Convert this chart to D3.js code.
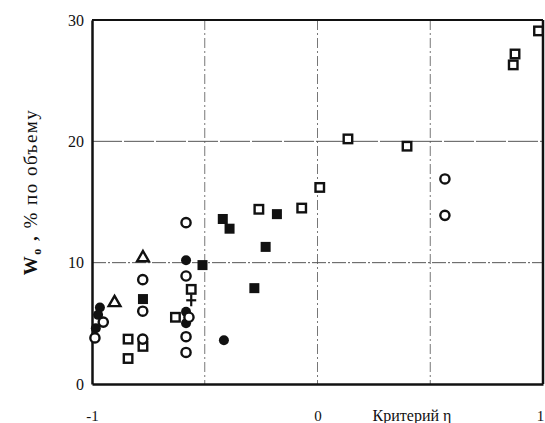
<!DOCTYPE html>
<html><head><meta charset="utf-8">
<script src="https://cdn.jsdelivr.net/npm/d3@7"></script>
<style>body{margin:0;background:#fff}svg{display:block}</style>
</head><body>
<svg id="c" width="545" height="423"></svg>
<script>
const xTicks = [-1, 0, 1];
const yTicks = [0, 10, 20, 30];
const xGrid = [-0.5, 0, 0.5];
const yGrid = [10, 20];
const openSquares = [[0.98,29.1],[0.876,27.2],[0.868,26.3],[0.135,20.2],[0.397,19.6],[0.01,16.2],[-0.07,14.5],[-0.26,14.4],[-0.84,3.7],[-0.774,3.1],[-0.84,2.1],[-0.63,5.5],[-0.56,7.8]];
const filledSquares = [[-0.42,13.6],[-0.39,12.8],[-0.18,14.0],[-0.23,11.3],[-0.51,9.8],[-0.28,7.9],[-0.774,7.0]];
const openCircles = [[0.565,16.9],[0.565,13.9],[-0.583,13.3],[-0.583,8.9],[-0.775,8.6],[-0.775,6.0],[-0.775,3.7],[-0.583,3.9],[-0.583,2.6],[-0.57,5.5],[-0.95,5.1],[-0.987,3.8]];
const filledCircles = [[-0.583,10.2],[-0.583,5.95],[-0.583,5.0],[-0.415,3.6],[-0.965,6.3],[-0.973,5.7],[-0.983,4.6]];
const triangles = [[-0.774,10.4],[-0.90,6.7]];
const crosses = [[-0.56,6.9]];

const svg = d3.select("#c");
const L=92,R=543,T=20,B=384;
const x = d3.scaleLinear().domain([-1,1]).range([L,R]);
const y = d3.scaleLinear().domain([0,30]).range([B,T]);
const serif = "'Liberation Serif','Times New Roman',serif";

// grid
svg.append("g").selectAll("line").data(xGrid).join("line")
  .attr("x1",d=>x(d)).attr("x2",d=>x(d)).attr("y1",T).attr("y2",B)
  .attr("stroke","#777").attr("stroke-width",1).attr("stroke-dasharray","10,3,2,3");
svg.append("g").selectAll("line").data(yGrid).join("line")
  .attr("x1",L).attr("x2",R).attr("y1",d=>y(d)).attr("y2",d=>y(d))
  .attr("stroke","#555").attr("stroke-width",1).attr("stroke-dasharray",(d,i)=>i===0?"14,2,2,2":"30,2");

// frame
svg.append("line").attr("x1",L).attr("x2",R).attr("y1",T).attr("y2",T).attr("stroke","#111").attr("stroke-width",1.8);
svg.append("line").attr("x1",R).attr("x2",R).attr("y1",T).attr("y2",B).attr("stroke","#111").attr("stroke-width",2.5);

// axes
const xAxis = d3.axisBottom(x).tickValues(xTicks).tickSize(0).tickFormat(d=>String(d));
const gx = svg.append("g").attr("transform",`translate(0,${B})`).call(xAxis);
gx.select(".domain").attr("stroke","#111").attr("stroke-width",2.5);
gx.selectAll("text").attr("font-family",serif).attr("font-size",15).attr("fill","#111").attr("dy",0).attr("y",37)
  .attr("dx",d=>d===1?-3:0);
const yAxis = d3.axisLeft(y).tickValues(yTicks).tickSize(0).tickFormat(d=>String(d));
const gy = svg.append("g").attr("transform",`translate(${L},0)`).call(yAxis);
gy.select(".domain").attr("stroke","#111").attr("stroke-width",2.5);
gy.selectAll("text").attr("font-family",serif).attr("font-size",16).attr("fill","#111").attr("x",-8);

// titles
svg.append("text").attr("x",412).attr("y",421).attr("text-anchor","middle")
  .attr("font-family",serif).attr("font-size",16).attr("fill","#111").text("Критерий  η");
const yt = svg.append("text").attr("transform","translate(37,192) rotate(-90)").attr("text-anchor","middle")
  .attr("font-family",serif).attr("font-size",19).attr("letter-spacing",1.5).attr("fill","#111");
yt.append("tspan").attr("font-weight","bold").text("W");
yt.append("tspan").attr("font-weight","bold").attr("font-size",12).attr("dy",4).text("o");
yt.append("tspan").attr("font-weight","bold").attr("dy",-4).text(" ,  ");
yt.append("tspan").text("%   по объему");

// markers
const s=8.5;
svg.append("g").selectAll("rect").data(openSquares).join("rect")
  .attr("x",d=>x(d[0])-s/2).attr("y",d=>y(d[1])-s/2).attr("width",s).attr("height",s)
  .attr("fill","#fff").attr("stroke","#111").attr("stroke-width",2.4);
svg.append("g").selectAll("rect").data(filledSquares).join("rect")
  .attr("x",d=>x(d[0])-5).attr("y",d=>y(d[1])-5).attr("width",10).attr("height",10)
  .attr("fill","#111");
svg.append("g").selectAll("circle").data(filledCircles).join("circle")
  .attr("cx",d=>x(d[0])).attr("cy",d=>y(d[1])).attr("r",5).attr("fill","#111");
svg.append("g").selectAll("circle").data(openCircles).join("circle")
  .attr("cx",d=>x(d[0])).attr("cy",d=>y(d[1])).attr("r",4.6)
  .attr("fill","#fff").attr("stroke","#111").attr("stroke-width",2.4);
const tri = d3.symbol().type(d3.symbolTriangle).size(60);
svg.append("g").selectAll("path").data(triangles).join("path")
  .attr("d",tri).attr("transform",d=>`translate(${x(d[0])},${y(d[1])})`)
  .attr("fill","#fff").attr("stroke","#111").attr("stroke-width",2.4);
svg.append("g").selectAll("g").data(crosses).join("g")
  .attr("transform",d=>`translate(${x(d[0])},${y(d[1])})`)
  .call(g=>{g.append("line").attr("x1",-5).attr("x2",5).attr("stroke","#111").attr("stroke-width",2.2);
            g.append("line").attr("y1",-6).attr("y2",6).attr("stroke","#111").attr("stroke-width",2.2);});
</script>
</body></html>
